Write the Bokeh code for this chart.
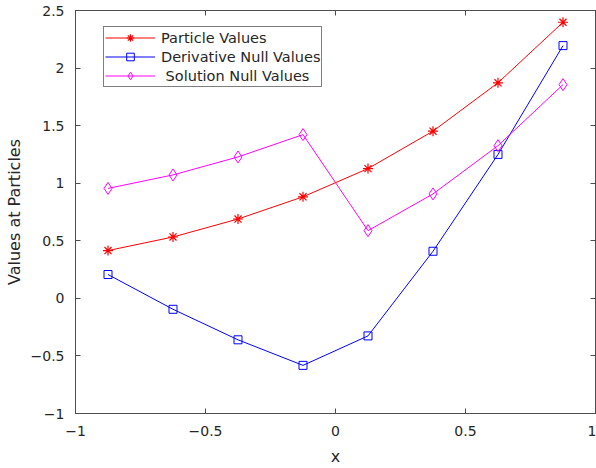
from bokeh.plotting import figure
from bokeh.models import FixedTicker, LinearAxis, Range1d, Legend
from bokeh.embed import file_html
from bokeh.resources import INLINE

x_vals = [-0.875, -0.625, -0.375, -0.125, 0.125, 0.375, 0.625, 0.875]
particle_values = [0.415, 0.533, 0.689, 0.882, 1.127, 1.452, 1.872, 2.398]
derivative_null = [0.207, -0.095, -0.360, -0.582, -0.326, 0.409, 1.250, 2.195]
solution_null = [0.955, 1.072, 1.228, 1.422, 0.588, 0.907, 1.326, 1.856]

x_ticks = [-1, -0.5, 0, 0.5, 1]
x_tick_labels = ["\u22121", "\u22120.5", "0", "0.5", "1"]
y_ticks = [-1, -0.5, 0, 0.5, 1, 1.5, 2, 2.5]
y_tick_labels = ["\u22121", "\u22120.5", "0", "0.5", "1", "1.5", "2", "2.5"]

FONT = "DejaVu Sans"
AX = "#4d4d4d"
TXT = "#262626"

p = figure(width=596, height=468, output_backend="svg", toolbar_location=None,
           x_range=Range1d(-1, 1), y_range=Range1d(-1, 2.5),
           min_border_left=75, min_border_right=1, min_border_top=10, min_border_bottom=53,
           x_axis_label="x", y_axis_label="Values at Particles")
p.xgrid.visible = False
p.ygrid.visible = False
p.outline_line_color = AX
p.outline_line_width = 1

for ax, ticks, labels in ((p.xaxis[0], x_ticks, x_tick_labels), (p.yaxis[0], y_ticks, y_tick_labels)):
    ax.ticker = FixedTicker(ticks=ticks)
    ax.major_label_overrides = {t: l for t, l in zip(ticks, labels)}
    ax.minor_tick_line_color = None
    ax.major_tick_in = 5
    ax.major_tick_out = 0
    ax.axis_line_color = AX
    ax.major_tick_line_color = AX
    ax.major_label_text_font = FONT
    ax.major_label_text_font_size = "14px"
    ax.major_label_text_color = TXT
    ax.axis_label_text_font = FONT
    ax.axis_label_text_font_size = "16px"
    ax.axis_label_text_font_style = "normal"
    ax.axis_label_text_color = TXT

p.xaxis[0].major_label_standoff = 12
p.xaxis[0].axis_label_standoff = 8
p.yaxis[0].major_label_standoff = 11
p.yaxis[0].axis_label_standoff = 4

for loc, ticks in (("above", x_ticks), ("right", y_ticks)):
    a = LinearAxis(ticker=FixedTicker(ticks=ticks),
                   major_label_overrides={t: "" for t in ticks},
                   major_label_text_font_size="1px",
                   major_label_standoff=0, major_tick_in=5, major_tick_out=0,
                   minor_tick_line_color=None, axis_line_color=AX, major_tick_line_color=AX)
    p.add_layout(a, loc)

l1 = p.line(x_vals, particle_values, color="#ff0000", line_width=1)
m1 = p.scatter(x_vals, particle_values, marker="asterisk", size=10, line_color="#ff0000", line_width=1.2)
l2 = p.line(x_vals, derivative_null, color="#0000ff", line_width=1)
m2 = p.scatter(x_vals, derivative_null, marker="square", size=8, line_color="#0000ff", fill_color=None, line_width=1)
l3 = p.line(x_vals, solution_null, color="#ff00ff", line_width=1)
m3 = p.scatter(x_vals, solution_null, marker="diamond", size=12, line_color="#ff00ff", fill_color=None, line_width=1)

legend = Legend(items=[("Particle Values", [l1, m1]),
                       ("Derivative Null Values", [l2, m2]),
                       (" Solution Null Values", [l3, m3])],
                location=(28, 326), border_line_color="#000000", border_line_width=1,
                label_text_font=FONT, label_text_font_size="14.5px", label_text_color=TXT,
                glyph_width=50, glyph_height=19, label_height=16, spacing=0,
                padding=1, margin=0, label_standoff=6, background_fill_alpha=1)
p.add_layout(legend)

open("out.html", "w").write(file_html(p, INLINE))
